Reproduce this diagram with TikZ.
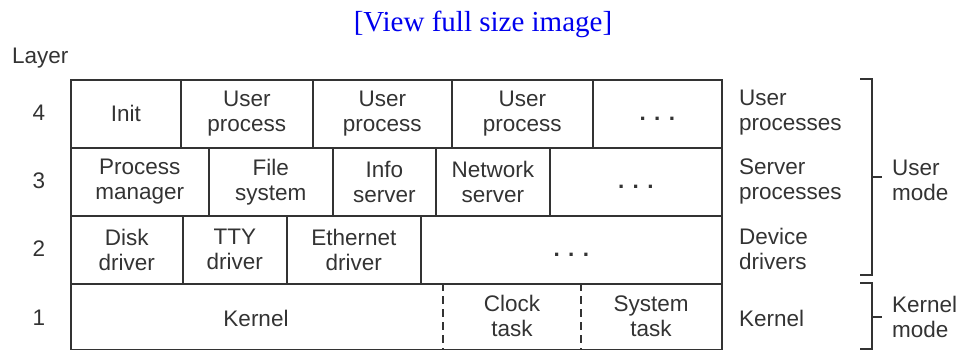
\documentclass[tikz,border=0pt]{standalone}
\usepackage{fontspec}
\setmainfont{Liberation Sans}
\newfontfamily\titlefont{Liberation Serif}
\definecolor{ink}{HTML}{333333}
\definecolor{linkblue}{HTML}{0000EE}
\begin{document}
\begin{tikzpicture}[x=1pt,y=-1pt,
  every node/.style={text=ink,font=\fontsize{22.5}{25}\selectfont,align=center,inner sep=0pt},
  cell/.style={draw=ink,line width=1.6pt,anchor=north west},
  lbl/.style={anchor=west,align=left},
  dots/.style={yshift=-5pt},
  brk/.style={draw=ink,line width=1.6pt},
  sep/.style={draw=ink,line width=1.6pt,dash pattern=on 8pt off 5pt}]
\useasboundingbox (0,0) rectangle (960,350);
\node[text=linkblue,font=\titlefont\fontsize{29}{32}\selectfont] (title) at (483,24) {[View full size image]};
\node[anchor=west] (layer) at (12,58) {Layer};
\node (n4) at (39,113) {4};
\node (n3) at (39,181) {3};
\node (n2) at (39,249) {2};
\node (n1) at (39,318) {1};
% row 4
\node[cell,minimum width=110,minimum height=68] (init) at (70,79) {};
\node at (init.center) {Init};
\node[cell,minimum width=132,minimum height=68] (up1) at (180,79) {};
\node at (up1.center) {User\\process};
\node[cell,minimum width=139,minimum height=68] (up2) at (312,79) {};
\node at (up2.center) {User\\process};
\node[cell,minimum width=141,minimum height=68] (up3) at (451,79) {};
\node at (up3.center) {User\\process};
\node[cell,minimum width=129,minimum height=68] (updots) at (592,79) {};
\node[dots] at (updots.center) {\textbf{. . .}};
% row 3
\node[cell,minimum width=138,minimum height=68] (pm) at (70,147) {};
\node at (pm.center) {Process\\manager};
\node[cell,minimum width=124,minimum height=68] (fs) at (208,147) {};
\node at (fs.center) {File\\system};
\node[cell,minimum width=103,minimum height=68] (is) at (332,147) {};
\node at (is.center) {Info\\server};
\node[cell,minimum width=114,minimum height=68] (ns) at (435,147) {};
\node at (ns.center) {Network\\server};
\node[cell,minimum width=172,minimum height=68] (sdots) at (549,147) {};
\node[dots] at (sdots.center) {\textbf{. . .}};
% row 2
\node[cell,minimum width=112,minimum height=68] (dd) at (70,215) {};
\node at (dd.center) {Disk\\driver};
\node[cell,minimum width=104,minimum height=68] (tty) at (182,215) {};
\node at (tty.center) {TTY\\driver};
\node[cell,minimum width=134,minimum height=68] (eth) at (286,215) {};
\node at (eth.center) {Ethernet\\driver};
\node[cell,minimum width=301,minimum height=68] (ddots) at (420,215) {};
\node[dots] at (ddots.center) {\textbf{. . .}};
% row 1
\node[cell,minimum width=651,minimum height=66] (kern) at (70,283) {};
\coordinate (s1t) at (443,283); \coordinate (s1b) at (443,349);
\coordinate (s2t) at (581,283); \coordinate (s2b) at (581,349);
\draw[sep] (s1t) -- (s1b);
\draw[sep] (s2t) -- (s2b);
\node (ktxt) at (256,318) {Kernel};
\node (clock) at (512,316) {Clock\\task};
\node (systask) at (651,316) {System\\task};
% right labels
\node[lbl] (l4) at (739,113) {User\\processes};
\node[lbl] (l3) at (739,181) {Server\\processes};
\node[lbl] (l2) at (739,249) {Device\\drivers};
\node[lbl] (l1) at (739,318) {Kernel};
% brackets
\coordinate (ua) at (860,79); \coordinate (ub) at (872,79);
\coordinate (uc) at (872,275); \coordinate (ud) at (860,275);
\coordinate (ut1) at (872,177); \coordinate (ut2) at (882,177);
\draw[brk] (ua) -- (ub) -- (uc) -- (ud);
\draw[brk] (ut1) -- (ut2);
\coordinate (ka) at (860,283); \coordinate (kb) at (872,283);
\coordinate (kc) at (872,349); \coordinate (kd) at (860,349);
\coordinate (kt1) at (872,317); \coordinate (kt2) at (882,317);
\draw[brk] (ka) -- (kb) -- (kc) -- (kd);
\draw[brk] (kt1) -- (kt2);
\node[lbl] (umode) at (892,180) {User\\mode};
\node[lbl] (kmode) at (892,317) {Kernel\\mode};
\end{tikzpicture}
\end{document}
